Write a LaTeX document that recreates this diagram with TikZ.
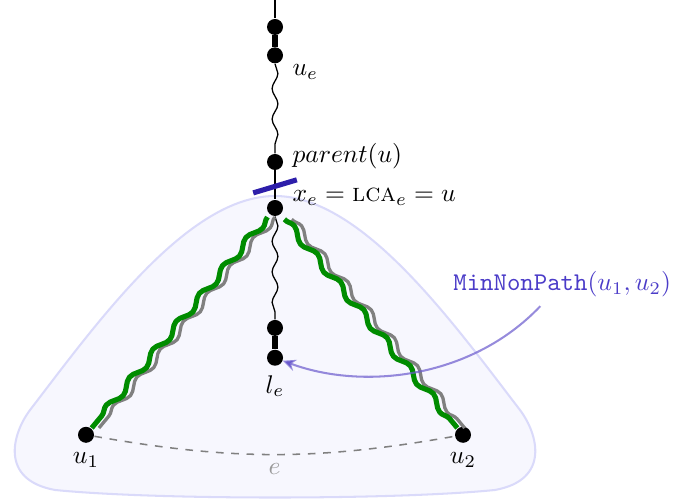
\documentclass[tikz,border=0pt]{standalone}
\usepackage{amsmath}
\usepackage{amssymb}
\usepackage{tikz}
\usetikzlibrary{calc,decorations.pathmorphing,arrows.meta}
\usepackage{xcolor}
\definecolor{blobfill}{RGB}{247,247,254}
\definecolor{blobline}{RGB}{218,218,250}
\definecolor{cutblue}{RGB}{45,30,170}
\definecolor{mnpblue}{RGB}{75,60,200}
\definecolor{arrowblue}{RGB}{106,90,205}
\definecolor{pathgreen}{RGB}{0,140,0}

\begin{document}
\begin{tikzpicture}[
  dot/.style={circle, fill=black, inner sep=0pt, minimum size=0.22cm},
  thinedge/.style={line width=0.5pt},
  thickedge/.style={line width=2.4pt},
  wavy/.style={thinedge, decorate, decoration={snake, segment length=0.42cm, amplitude=0.04cm}},
  greenpath/.style={pathgreen, line width=2pt, line join=round, decorate, decoration={snake, segment length=0.5cm, amplitude=0.048cm}},
  graypath/.style={gray, line width=1.3pt, line join=round, decorate, decoration={snake, segment length=0.5cm, amplitude=0.048cm}},
  cutmark/.style={cutblue, line width=2pt},
]
\useasboundingbox (-3.783,-4.058) rectangle (5.516,2.861);
% subtree e
\draw[blobline, fill=blobfill, line width=0.8pt] (0,0.165)
  .. controls (-1.2,0.165) and (-2.45,-1.58) .. (-3.370,-2.779)
  .. controls (-3.618,-3.109) and (-3.79,-3.741) .. (-3.026,-3.879)
  .. controls (-1.651,-4.017) and (1.651,-4.017) .. (3.026,-3.879)
  .. controls (3.79,-3.741) and (3.618,-3.109) .. (3.370,-2.779)
  .. controls (2.45,-1.58) and (1.2,0.165) .. (0,0.165) -- cycle;
% tree path
\coordinate (top) at (0,2.861);
\node[dot] (uetop) at (0,2.49) {};
\node[dot] (ue) at (0,2.10) {};
\node[dot] (pu) at (0,0.633) {};
\node[dot] (u) at (0,0) {};
\node[dot] (letop) at (0,-1.65) {};
\node[dot] (le) at (0,-2.06) {};
\node[dot] (u1) at (-2.60,-3.12) {};
\node[dot] (u2) at (2.586,-3.12) {};
\draw[thinedge] (top) -- (uetop);
\draw[thickedge] (uetop) -- (ue);
\draw[wavy] (ue) -- (pu);
\draw[thinedge] (pu) -- (u);
\draw[wavy] (u) -- (letop);
\draw[thickedge] (letop) -- (le);
% labels
\node[anchor=north west] (uelab) at (ue.east) {$u_e$};
\node[right, yshift=0.08cm] (pulab) at (pu.east) {$parent(u)$};
\node[right, yshift=0.15cm] (ulab) at (u.east) {$x_e = \textsc{lca}_e = u$};
\node[below] (lelab) at (le.south) {$l_e$};
\node[below] (u1lab) at (u1.south) {$u_1$};
\node[below] (u2lab) at (u2.south) {$u_2$};
% cut above u
\draw[cutmark] ($(pu)!0.53!(u)$) ++(-0.3,-0.09) -- ++(0.6,0.18);
% paths to u1 and u2
\draw[graypath] ($(u)!0.04!(u1) + (0.1,0)$) -- ($(u)!0.97!(u1) + (0.1,0)$);
\draw[greenpath] ($(u)!0.04!(u1)$) -- ($(u)!0.97!(u1)$);
\draw[graypath] ($(u)!0.05!(u2) + (0.1,0)$) -- ($(u)!0.97!(u2) + (0.1,0)$);
\draw[greenpath] ($(u)!0.05!(u2)$) -- ($(u)!0.97!(u2)$);
% edge e
\draw[dashed, gray, line width=0.6pt] (u1) to[bend right=10] node[midway, below, gray!80] (elab) {$e$} (u2);
% MinNonPath
\node[mnpblue] (mnp) at (3.95,-1.05) {\texttt{MinNonPath}$(u_1,u_2)$};
\draw[arrowblue, draw opacity=0.7, line width=0.8pt, -{Stealth[length=5pt,width=4.5pt]}]
  ([xshift=-0.3cm]mnp.south) .. controls (2.68,-2.37) and (1.17,-2.5) .. (le);
\end{tikzpicture}
\end{document}
